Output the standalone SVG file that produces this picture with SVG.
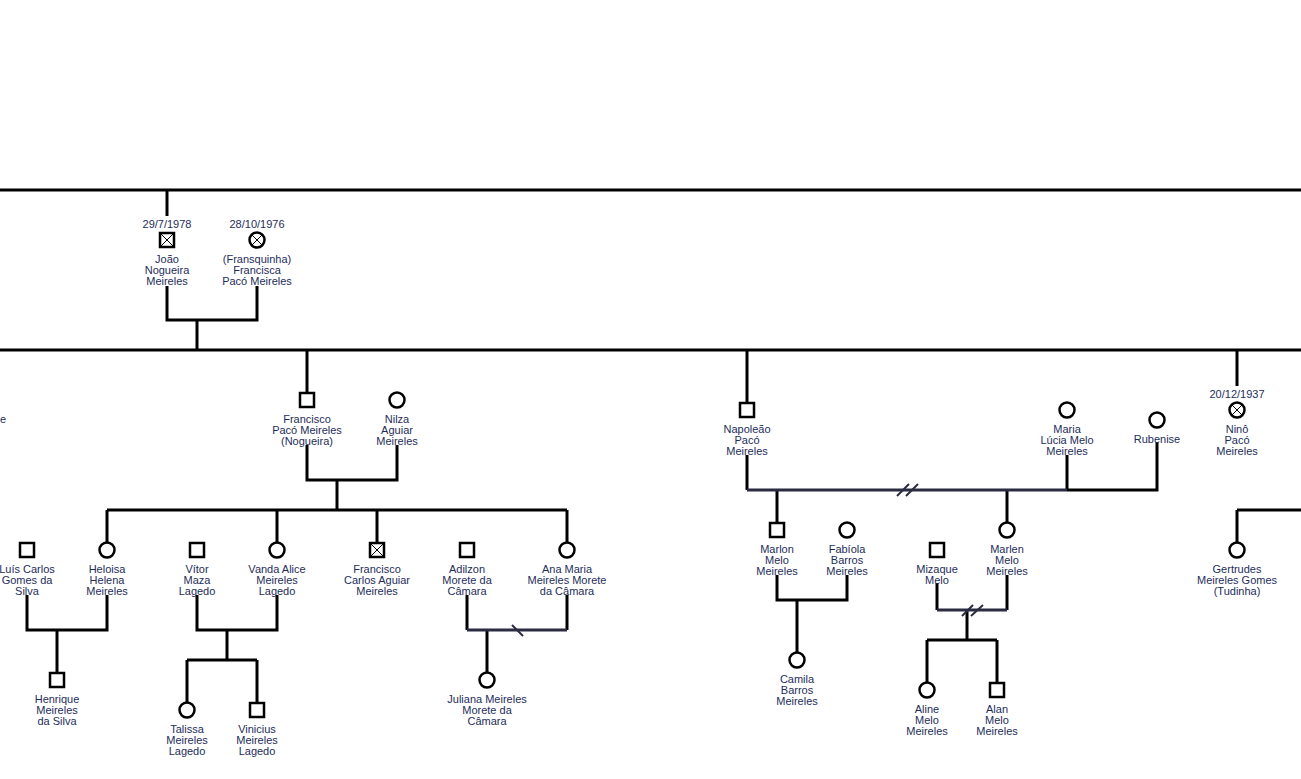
<svg xmlns="http://www.w3.org/2000/svg" xmlns:xlink="http://www.w3.org/1999/xlink" width="1301" height="779" viewBox="0 0 1301 779">
<style>
.ln{stroke:#000;stroke-width:3;fill:none}
.dv{stroke:#2b2b42;stroke-width:3;fill:none}
.sl{stroke:#2b2b42;stroke-width:2;fill:none}
.sym{fill:#fff;stroke:#000;stroke-width:2.5}
.x{stroke:#000;stroke-width:1;fill:none}
text{font-family:"Liberation Sans",Arial,sans-serif;font-size:11px;fill:#1e2d5a;text-anchor:middle}
</style>
<defs>
<rect id="sq" class="sym" x="-7" y="-7" width="14" height="14"/>
<circle id="ci" class="sym" r="7.5"/>
<path id="xs" class="x" d="M-6-6L6 6M6-6L-6 6"/>
<path id="xc" class="x" d="M-5.5-5.5L5.5 5.5M5.5-5.5L-5.5 5.5"/>
</defs>
<rect width="1301" height="779" fill="#fff"/>
<g id="connectors">
<path class="ln" d="M0 190H1301M167 190V216M167 286V320H257V286M197 320V350M0 350H1301M307 350V392M747 350V402M1237 350V386"/>
<path class="ln" d="M307 445V480H397V445M337 480V510M107 510H567M107 510V542M277 510V542M377 510V542M567 510V542"/>
<path class="ln" d="M27 595V630H107V595M57 630V672M197 595V630H277V595M227 630V660M187 660H257M187 660V702M257 660V702"/>
<path class="ln" d="M467 595V630M567 595V630M487 630V672"/>
<path class="dv" d="M467 630H567"/>
<path class="sl" d="M512 625L523 636"/>
<path class="ln" d="M747 455V490M1067 455V490M1067 490H1157V442M777 490V522M1007 490V522"/>
<path class="dv" d="M747 490H1067"/>
<path class="sl" d="M897 496L909 484M906 496L918 484"/>
<path class="ln" d="M777 575V600H847V575M797 600V652"/>
<path class="ln" d="M937 583V610M1007 575V610M967 610V640M927 640H997M927 640V682M997 640V682"/>
<path class="dv" d="M937 610H1007"/>
<path class="sl" d="M962 616L973 605M971 616L983 605"/>
<path class="ln" d="M1237 510H1301M1237 510V542"/>
</g>
<g id="n-edge"><text x="0" y="423" style="text-anchor:start">e</text></g>
<g id="n-joao" transform="translate(167,240)"><use href="#sq"/><use href="#xs"/><text y="-12">29/7/1978</text><text y="23">João</text><text y="34">Nogueira</text><text y="45">Meireles</text></g>
<g id="n-francisca" transform="translate(257,240)"><use href="#ci"/><use href="#xc"/><text y="-12">28/10/1976</text><text y="23">(Fransquinha)</text><text y="34">Francisca</text><text y="45">Pacó Meireles</text></g>
<g id="n-francisco" transform="translate(307,400)"><use href="#sq"/><text y="23">Francisco</text><text y="34">Pacó Meireles</text><text y="45">(Nogueira)</text></g>
<g id="n-nilza" transform="translate(397,400)"><use href="#ci"/><text y="23">Nilza</text><text y="34">Aguiar</text><text y="45">Meireles</text></g>
<g id="n-luis" transform="translate(27,550)"><use href="#sq"/><text y="23">Luís Carlos</text><text y="34">Gomes da</text><text y="45">Silva</text></g>
<g id="n-heloisa" transform="translate(107,550)"><use href="#ci"/><text y="23">Heloisa</text><text y="34">Helena</text><text y="45">Meireles</text></g>
<g id="n-vitor" transform="translate(197,550)"><use href="#sq"/><text y="23">Vítor</text><text y="34">Maza</text><text y="45">Lagedo</text></g>
<g id="n-vanda" transform="translate(277,550)"><use href="#ci"/><text y="23">Vanda Alice</text><text y="34">Meireles</text><text y="45">Lagedo</text></g>
<g id="n-fcarlos" transform="translate(377,550)"><use href="#sq"/><use href="#xs"/><text y="23">Francisco</text><text y="34">Carlos Aguiar</text><text y="45">Meireles</text></g>
<g id="n-adilzon" transform="translate(467,550)"><use href="#sq"/><text y="23">Adilzon</text><text y="34">Morete da</text><text y="45">Câmara</text></g>
<g id="n-anamaria" transform="translate(567,550)"><use href="#ci"/><text y="23">Ana Maria</text><text y="34">Meireles Morete</text><text y="45">da Câmara</text></g>
<g id="n-henrique" transform="translate(57,680)"><use href="#sq"/><text y="23">Henrique</text><text y="34">Meireles</text><text y="45">da Silva</text></g>
<g id="n-talissa" transform="translate(187,710)"><use href="#ci"/><text y="23">Talissa</text><text y="34">Meireles</text><text y="45">Lagedo</text></g>
<g id="n-vinicius" transform="translate(257,710)"><use href="#sq"/><text y="23">Vinicius</text><text y="34">Meireles</text><text y="45">Lagedo</text></g>
<g id="n-juliana" transform="translate(487,680)"><use href="#ci"/><text y="23">Juliana Meireles</text><text y="34">Morete da</text><text y="45">Câmara</text></g>
<g id="n-napoleao" transform="translate(747,410)"><use href="#sq"/><text y="23">Napoleão</text><text y="34">Pacó</text><text y="45">Meireles</text></g>
<g id="n-marialucia" transform="translate(1067,410)"><use href="#ci"/><text y="23">Maria</text><text y="34">Lúcia Melo</text><text y="45">Meireles</text></g>
<g id="n-rubenise" transform="translate(1157,420)"><use href="#ci"/><text y="23">Rubenise</text></g>
<g id="n-nino" transform="translate(1237,410)"><use href="#ci"/><use href="#xc"/><text y="-12">20/12/1937</text><text y="23">Ninô</text><text y="34">Pacó</text><text y="45">Meireles</text></g>
<g id="n-marlon" transform="translate(777,530)"><use href="#sq"/><text y="23">Marlon</text><text y="34">Melo</text><text y="45">Meireles</text></g>
<g id="n-fabiola" transform="translate(847,530)"><use href="#ci"/><text y="23">Fabíola</text><text y="34">Barros</text><text y="45">Meireles</text></g>
<g id="n-mizaque" transform="translate(937,550)"><use href="#sq"/><text y="23">Mizaque</text><text y="34">Melo</text></g>
<g id="n-marlen" transform="translate(1007,530)"><use href="#ci"/><text y="23">Marlen</text><text y="34">Melo</text><text y="45">Meireles</text></g>
<g id="n-camila" transform="translate(797,660)"><use href="#ci"/><text y="23">Camila</text><text y="34">Barros</text><text y="45">Meireles</text></g>
<g id="n-aline" transform="translate(927,690)"><use href="#ci"/><text y="23">Aline</text><text y="34">Melo</text><text y="45">Meireles</text></g>
<g id="n-alan" transform="translate(997,690)"><use href="#sq"/><text y="23">Alan</text><text y="34">Melo</text><text y="45">Meireles</text></g>
<g id="n-gertrudes" transform="translate(1237,550)"><use href="#ci"/><text y="23">Gertrudes</text><text y="34">Meireles Gomes</text><text y="45">(Tudinha)</text></g>
</svg>
